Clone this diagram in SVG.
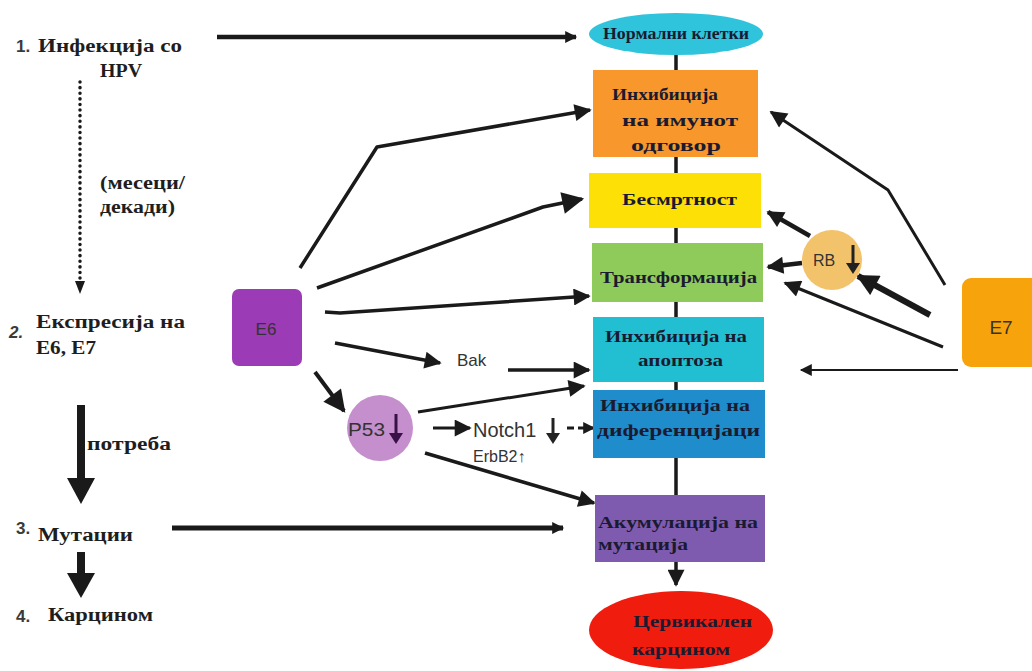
<svg xmlns="http://www.w3.org/2000/svg" width="1032" height="671" viewBox="0 0 1032 671">
<style>
.lt{font-family:"Liberation Serif",serif;font-weight:bold;font-size:18px;fill:#1e1e1e}
.num{font-family:"Liberation Sans",sans-serif;font-weight:bold;font-size:17px;fill:#3a3a3a}
.bx{font-family:"Liberation Serif",serif;font-weight:bold;font-size:16px;fill:#1a1a30}
.ss{font-family:"Liberation Sans",sans-serif;fill:#333}
.c{fill:none;stroke:#1a1a1a;stroke-linejoin:round}
</style>
<defs>
<marker id="hs" markerUnits="userSpaceOnUse" viewBox="0 0 10 10" refX="9" refY="5" markerWidth="14" markerHeight="12" orient="auto"><path d="M0,0 L10,5 L0,10 z" fill="#1a1a1a"/></marker>
<marker id="hm" markerUnits="userSpaceOnUse" viewBox="0 0 10 10" refX="9" refY="5" markerWidth="20" markerHeight="17" orient="auto"><path d="M0,0 L10,5 L0,10 z" fill="#1a1a1a"/></marker>
<marker id="hl" markerUnits="userSpaceOnUse" viewBox="0 0 10 10" refX="9" refY="5" markerWidth="24" markerHeight="22" orient="auto"><path d="M0,0 L10,5 L0,10 z" fill="#1a1a1a"/></marker>
</defs>

<g id="left-labels">
<text class="num" x="16" y="52">1.</text>
<text class="lt" x="38" y="52" textLength="144" lengthAdjust="spacingAndGlyphs">Инфекција со</text>
<text class="lt" x="100" y="77" textLength="42" lengthAdjust="spacingAndGlyphs">HPV</text>
<text class="lt" x="100" y="189" font-size="15" textLength="85" lengthAdjust="spacingAndGlyphs">(месеци/</text>
<text class="lt" x="100" y="213" font-size="15" textLength="75" lengthAdjust="spacingAndGlyphs">декади)</text>
<text class="num" x="9" y="338" font-size="21" font-style="italic">2.</text>
<text class="lt" x="36" y="328" textLength="149" lengthAdjust="spacingAndGlyphs">Експресија на</text>
<text class="lt" x="36" y="354" textLength="60" lengthAdjust="spacingAndGlyphs">Е6, Е7</text>
<text class="lt" x="87" y="450" font-size="15" textLength="84" lengthAdjust="spacingAndGlyphs">потреба</text>
<text class="num" x="16" y="534" font-size="15">3.</text>
<text class="lt" x="38" y="541" font-size="17" textLength="95" lengthAdjust="spacingAndGlyphs">Мутации</text>
<text class="num" x="16" y="622">4.</text>
<text class="lt" x="48" y="621" font-size="17" textLength="105" lengthAdjust="spacingAndGlyphs">Карцином</text>
</g>

<g id="left-arrows">
<path class="c" d="M80,82 L80,282" stroke-width="3.5" stroke-dasharray="0.1,5.5" stroke-linecap="round"/>
<path d="M75,281 L85,281 L80,294 z" fill="#1a1a1a"/>
<path d="M81,405 L81,480" stroke="#1a1a1a" stroke-width="8"/>
<path d="M67,478 L95,478 L81,504 z" fill="#1a1a1a"/>
<path d="M81,552 L81,575" stroke="#1a1a1a" stroke-width="8"/>
<path d="M67,573 L95,573 L81,598 z" fill="#1a1a1a"/>
</g>

<g id="connectors">
<path class="c" d="M217,37 L576,37" stroke-width="4.5" marker-end="url(#hs)"/>
<path class="c" d="M172,528 L563,528" stroke-width="5" marker-end="url(#hs)"/>
<path class="c" d="M676,55 L676,70 M676,157 L676,173 M676,228 L676,243 M676,302 L676,317 M676,382 L676,390 M676,458 L676,495" stroke-width="3.5"/>
<path class="c" d="M676,562 L676,585" stroke-width="3.5" marker-end="url(#hm)"/>
<path class="c" d="M300,268 L377,147 L590,110" stroke-width="3.5" marker-end="url(#hm)"/>
<path class="c" d="M317,288 L543,207 L582,199" stroke-width="3.5" marker-end="url(#hl)"/>
<path class="c" d="M325,312 L340,313 L589,296" stroke-width="3.5" marker-end="url(#hm)"/>
<path class="c" d="M335,343 L440,363" stroke-width="3.5" marker-end="url(#hm)"/>
<path class="c" d="M508,370 L589,370" stroke-width="3.5" marker-end="url(#hm)"/>
<path class="c" d="M315,372 L344,411" stroke-width="4" marker-end="url(#hl)"/>
<path class="c" d="M418,412 L584,386" stroke-width="3" marker-end="url(#hm)"/>
<path class="c" d="M433,428 L470,428" stroke-width="3" marker-end="url(#hm)"/>
<path class="c" d="M567,428 L574,428 M578,428 L594,428" stroke-width="3" marker-end="url(#hs)"/>
<path class="c" d="M425,453 L594,503" stroke-width="3.5" marker-end="url(#hm)"/>
<path class="c" d="M945,285 L888,190 L771,112" stroke-width="3" marker-end="url(#hm)"/>
<path class="c" d="M930,315 L858,276" stroke-width="6" marker-end="url(#hl)"/>
<path class="c" d="M943,347 L785,283" stroke-width="3" marker-end="url(#hm)"/>
<path class="c" d="M958,370 L801,370" stroke-width="1.8" marker-end="url(#hs)"/>
<path class="c" d="M810,236 L768,212" stroke-width="4.5" marker-end="url(#hm)"/>
<path class="c" d="M802,263 L768,267" stroke-width="4.5" marker-end="url(#hm)"/>
</g>

<g id="n-normal">
<ellipse cx="676" cy="34" rx="87" ry="21" fill="#2fc3dc"/>
<text class="bx" x="676" y="39" font-size="14" text-anchor="middle" textLength="146" lengthAdjust="spacingAndGlyphs">Нормални клетки</text>
</g>
<g id="n-immune">
<rect x="593" y="70" width="165" height="87" fill="#f7972c"/>
<text class="bx" x="612" y="100" textLength="106" lengthAdjust="spacingAndGlyphs">Инхибиција</text>
<text class="bx" x="622" y="126" textLength="116" lengthAdjust="spacingAndGlyphs">на имунот</text>
<text class="bx" x="631" y="151" textLength="90" lengthAdjust="spacingAndGlyphs">одговор</text>
</g>
<g id="n-immortal">
<rect x="589" y="173" width="172" height="55" fill="#fde006"/>
<text class="bx" x="622" y="205" textLength="115" lengthAdjust="spacingAndGlyphs">Бесмртност</text>
</g>
<g id="n-transform">
<rect x="592" y="243" width="171" height="59" fill="#8fcb5a"/>
<text class="bx" x="600" y="283" textLength="157" lengthAdjust="spacingAndGlyphs">Трансформација</text>
</g>
<g id="n-apoptosis">
<rect x="593" y="317" width="171" height="65" fill="#22bfd2"/>
<text class="bx" x="605" y="342" textLength="142" lengthAdjust="spacingAndGlyphs">Инхибиција на</text>
<text class="bx" x="638" y="366" textLength="85" lengthAdjust="spacingAndGlyphs">апоптоза</text>
</g>
<g id="n-diff">
<rect x="593" y="390" width="172" height="68" fill="#1f8ccb"/>
<text class="bx" x="600" y="411" textLength="150" lengthAdjust="spacingAndGlyphs">Инхибиција на</text>
<text class="bx" x="597" y="436" textLength="163" lengthAdjust="spacingAndGlyphs">диференцијаци</text>
</g>
<g id="n-accum">
<rect x="595" y="495" width="170" height="67" fill="#7f5bb0"/>
<text class="bx" x="598" y="528" textLength="160" lengthAdjust="spacingAndGlyphs">Акумулација на</text>
<text class="bx" x="598" y="550" textLength="90" lengthAdjust="spacingAndGlyphs">мутација</text>
</g>
<g id="n-cancer">
<ellipse cx="681" cy="630" rx="92" ry="39" fill="#f01c0e"/>
<text class="bx" x="633" y="627" fill="#3a1410" textLength="119" lengthAdjust="spacingAndGlyphs">Цервикален</text>
<text class="bx" x="632" y="655" fill="#3a1410" textLength="98" lengthAdjust="spacingAndGlyphs">карцином</text>
</g>

<g id="n-e6">
<rect x="232" y="289" width="70" height="77" rx="7" fill="#9b3bb5"/>
<text class="ss" x="266" y="335" font-size="17" text-anchor="middle" fill="#4a1560">E6</text>
</g>
<g id="n-e7">
<rect x="962" y="278" width="80" height="89" rx="9" fill="#f7a40c"/>
<text class="ss" x="1001" y="334" font-size="19" text-anchor="middle" fill="#4a3000">E7</text>
</g>
<g id="n-bak">
<text class="ss" x="457" y="366" font-size="17" fill="#555">Bak</text>
</g>
<g id="n-p53">
<circle cx="380" cy="428" r="33" fill="#c48fcc"/>
<text class="ss" x="348" y="436" font-size="18" fill="#5a2070" textLength="37" lengthAdjust="spacingAndGlyphs">P53</text>
<path d="M396,414 L396,436" stroke="#3a1048" stroke-width="3"/>
<path d="M389,433 L403,433 L396,444 z" fill="#3a1048"/>
</g>
<g id="n-notch">
<text class="ss" x="473" y="437" font-size="20" fill="#333">Notch1</text>
<path d="M553,418 L553,436" stroke="#222" stroke-width="3"/>
<path d="M546,433 L560,433 L553,444 z" fill="#222"/>
<text class="ss" x="473" y="462" font-size="16" fill="#444">ErbB2↑</text>
</g>
<g id="n-rb">
<circle cx="832" cy="260" r="30" fill="#f3c36c"/>
<text class="ss" x="813" y="266" font-size="16" fill="#6a5020">RB</text>
<path d="M853,245 L853,266" stroke="#222" stroke-width="3"/>
<path d="M846,263 L860,263 L853,274 z" fill="#222"/>
</g>
</svg>
